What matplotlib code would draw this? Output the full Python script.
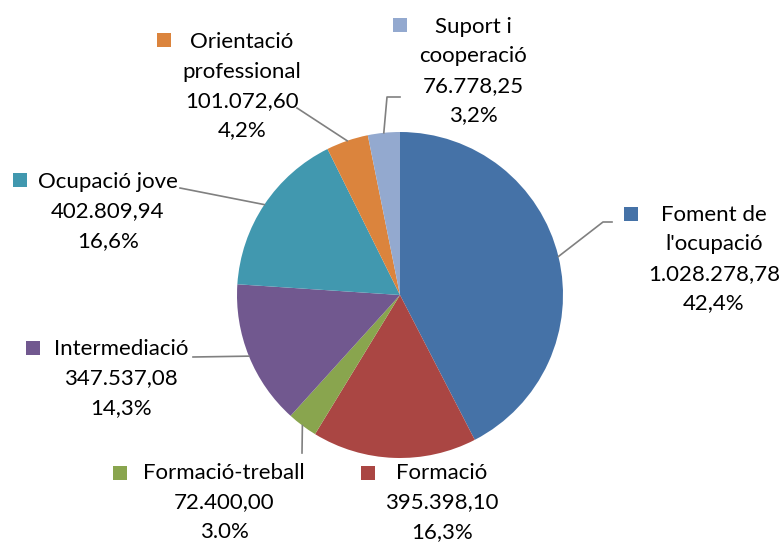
import numpy as np
import matplotlib
matplotlib.use('Agg')
import matplotlib.pyplot as plt

# data
categories = ['Foment de\nl\'ocupació', 'Formació', 'Formació-treball', 'Intermediació',
              'Ocupació jove', 'Orientació\nprofessional', 'Suport i\ncooperació']
values = [1028278.78, 395398.10, 72400.00, 347537.08, 402809.94, 101072.60, 76778.25]
value_labels = ['1.028.278,78', '395.398,10', '72.400,00', '347.537,08',
                '402.809,94', '101.072,60', '76.778,25']
pct_labels = ['42,4%', '16,3%', '3.0%', '14,3%', '16,6%', '4,2%', '3,2%']
colors = ['#4572A7', '#AA4643', '#89A54E', '#71588F', '#4198AF', '#DB843D', '#93A9CF']

W, H = 784, 543
plt.rcParams['font.family'] = ['Lato', 'DejaVu Sans']

fig = plt.figure(figsize=(W / 100, H / 100), dpi=100)
ax = fig.add_axes([0, 0, 1, 1])


def py(y):
    # pixel row -> data y
    return H - y


cx, cy, r = 400, 295, 163
wedges, _ = ax.pie(values, colors=colors, startangle=90, counterclock=False,
                   center=(cx, py(cy)), radius=r, frame=True,
                   wedgeprops=dict(linewidth=0))
ax.set_xlim(0, W)
ax.set_ylim(0, H)
ax.set_aspect('equal')
ax.axis('off')

# label layout: text center x, first line y, marker position, leader path
layout = [
    dict(x=714, y=215, sq=(631, 214), path=[(603, 222), (612, 222)]),
    dict(x=442, y=473, sq=(368, 473), path=None),
    dict(x=224, y=473, sq=(120, 473), path=[(302, 453)]),
    dict(x=121, y=349, sq=(33, 348), path=[(193, 357)]),
    dict(x=108, y=182, sq=(20, 180), path=[(180, 188)]),
    dict(x=242, y=42, sq=(164, 40), path=[(297, 108)]),
    dict(x=473, y=27, sq=(400, 25), path=[(387, 97), (400, 97)]),
]

lh = 29.5
for w, cat, val, pct, col, lay in zip(wedges, categories, value_labels, pct_labels, colors, layout):
    lines = cat.split('\n') + [val, pct]
    for i, t in enumerate(lines):
        ax.text(lay['x'], py(lay['y'] + i * lh), t, ha='center', va='center',
                fontsize=16, color='#000000')
    ax.plot(lay['sq'][0], py(lay['sq'][1]), marker='s', markersize=10.5,
            color=col, markeredgewidth=0)
    if lay['path']:
        mid = np.deg2rad((w.theta1 + w.theta2) / 2)
        xs = [cx + r * np.cos(mid)] + [p[0] for p in lay['path']]
        ys = [py(cy) + r * np.sin(mid)] + [py(p[1]) for p in lay['path']]
        ax.plot(xs, ys, color='#808080', lw=1.2)

fig.savefig('out.png', dpi=100)
